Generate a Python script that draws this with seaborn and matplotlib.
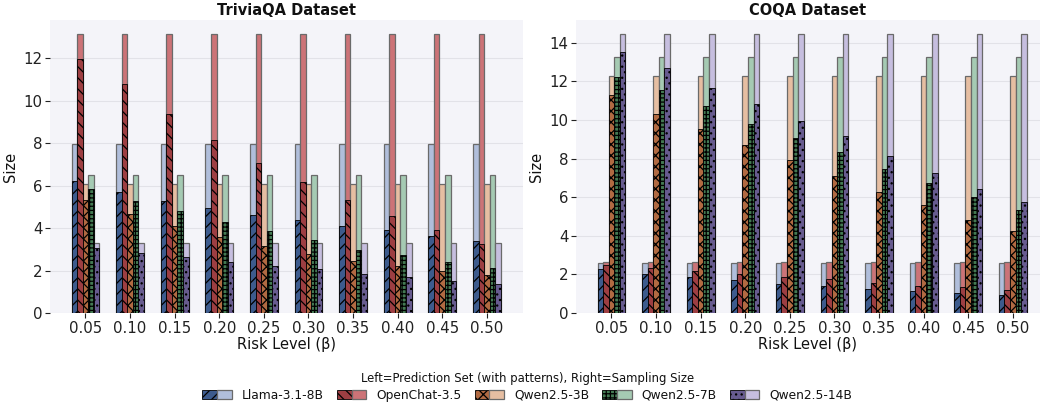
import numpy as np
import pandas as pd
import matplotlib
matplotlib.use("Agg")
import matplotlib.pyplot as plt
import seaborn as sns
from matplotlib.patches import Patch
from matplotlib.legend_handler import HandlerTuple

# ---- data -------------------------------------------------------------
risk_levels = ["0.05", "0.10", "0.15", "0.20", "0.25", "0.30", "0.35", "0.40", "0.45", "0.50"]
models = ["Llama-3.1-8B", "OpenChat-3.5", "Qwen2.5-3B", "Qwen2.5-7B", "Qwen2.5-14B"]

# TriviaQA: prediction-set size per risk level
tqa_llama = [6.24, 5.71, 5.27, 4.95, 4.64, 4.37, 4.12, 3.89, 3.65, 3.38]
tqa_openchat = [11.97, 10.77, 9.37, 8.13, 7.06, 6.17, 5.32, 4.59, 3.90, 3.27]
tqa_qwen3b = [5.33, 4.67, 4.09, 3.57, 3.18, 2.77, 2.47, 2.23, 1.98, 1.79]
tqa_qwen7b = [5.82, 5.30, 4.80, 4.28, 3.87, 3.43, 2.99, 2.71, 2.39, 2.14]
tqa_qwen14b = [3.07, 2.82, 2.63, 2.39, 2.23, 2.05, 1.86, 1.70, 1.53, 1.35]
# TriviaQA: sampling size per model
tqa_sampling = [7.95, 13.15, 6.07, 6.48, 3.32]

# CoQA: prediction-set size per risk level
coqa_llama = [2.30, 2.04, 1.85, 1.70, 1.52, 1.38, 1.25, 1.12, 1.02, 0.92]
coqa_openchat = [2.47, 2.35, 2.18, 2.00, 1.87, 1.75, 1.57, 1.42, 1.33, 1.19]
coqa_qwen3b = [11.27, 10.28, 9.52, 8.69, 7.92, 7.09, 6.29, 5.57, 4.84, 4.24]
coqa_qwen7b = [12.24, 11.54, 10.72, 9.78, 9.06, 8.33, 7.47, 6.71, 6.03, 5.31]
coqa_qwen14b = [13.53, 12.67, 11.63, 10.80, 9.94, 9.16, 8.12, 7.23, 6.40, 5.77]
# CoQA: sampling size per model
coqa_sampling = [2.61, 2.66, 12.25, 13.26, 14.45]

# ---- styling ----------------------------------------------------------
# darker shades of the "deep" palette for the prediction-set bars
dark_colors = ["#3D5B8D", "#9D3E42", "#B16A42", "#447A53", "#675B8F"]
light_colors = ["#B0BEDB", "#CC7377", "#E6BEA2", "#A5CAB3", "#C6BEDF"]
hatches = ["///", "\\\\\\", "xxx", "++++", "..."]


def long_table(pred_series, sampling):
    rows = []
    for model, pred, samp in zip(models, pred_series, sampling):
        for risk, p in zip(risk_levels, pred):
            rows.append({"risk": risk, "model": model, "pred": p, "samp": samp})
    return pd.DataFrame(rows)


tqa_df = long_table([tqa_llama, tqa_openchat, tqa_qwen3b, tqa_qwen7b, tqa_qwen14b], tqa_sampling)
coqa_df = long_table([coqa_llama, coqa_openchat, coqa_qwen3b, coqa_qwen7b, coqa_qwen14b], coqa_sampling)

sns.set_theme(style="whitegrid", rc={
    "axes.facecolor": "#F4F4F9",
    "grid.color": "#E2E2E8",
    "grid.linewidth": 0.8,
    "axes.edgecolor": "#F4F4F9",
    "xtick.bottom": True,
    "ytick.left": True,
    "xtick.color": "#222222",
    "ytick.color": "#222222",
    "text.color": "#111111",
    "axes.labelcolor": "#111111",
    "xtick.major.size": 3.5,
    "ytick.major.size": 3.5,
    "xtick.major.width": 0.8,
    "ytick.major.width": 0.8,
    "hatch.linewidth": 0.9,
})
plt.rcParams["font.family"] = ["DejaVu Sans"]

fig = plt.figure(figsize=(10.4, 4.04), dpi=100)
ax_l = fig.add_axes([50 / 1040, 91 / 404, 473 / 1040, 293 / 404])
ax_r = fig.add_axes([576 / 1040, 91 / 404, 464 / 1040, 293 / 404])


def draw_panel(ax, df, title, xlim):
    sns.barplot(data=df, x="risk", y="samp", hue="model", order=risk_levels,
                hue_order=models, palette=light_colors, saturation=1,
                width=0.625, errorbar=None, edgecolor="#6A6A6A", linewidth=0.9,
                legend=False, ax=ax)
    sns.barplot(data=df, x="risk", y="pred", hue="model", order=risk_levels,
                hue_order=models, palette=dark_colors, saturation=1,
                width=0.625, errorbar=None, edgecolor="black", linewidth=0.6,
                legend=False, ax=ax)
    for cont, hatch in zip(ax.containers[len(models):], hatches):
        for bar in cont:
            bar.set_hatch(hatch)
    ax.set_xlim(*xlim)
    ax.margins(y=0.05)
    ax.set_title(title, fontsize=10.5, fontweight="bold", pad=3.5)
    ax.set_xlabel("Risk Level (β)", fontsize=10.5, labelpad=1)
    ax.set_ylabel("Size", fontsize=10.5)
    ax.tick_params(axis="both", labelsize=10.8, pad=2)
    ax.grid(axis="x", visible=False)
    for s in ax.spines.values():
        s.set_visible(False)


draw_panel(ax_l, tqa_df, "TriviaQA Dataset", (-0.796, 9.81))
draw_panel(ax_r, coqa_df, "COQA Dataset", (-0.796, 9.61))

handles = [
    (Patch(facecolor=dark_colors[i], edgecolor="black", hatch=hatches[i], linewidth=0.6),
     Patch(facecolor=light_colors[i], edgecolor="#6A6A6A", linewidth=0.9))
    for i in range(len(models))
]
fig.legend(handles, models, handler_map={tuple: HandlerTuple(ndivide=None, pad=0.0)},
           loc="lower center", bbox_to_anchor=(0.507, -0.022), ncol=5, frameon=False,
           fontsize=8.8, title="Left=Prediction Set (with patterns), Right=Sampling Size",
           title_fontsize=8.4, handlelength=2.4, columnspacing=1.1, handletextpad=0.8,
           labelspacing=0.3)

fig.savefig("out.png", dpi=100)
